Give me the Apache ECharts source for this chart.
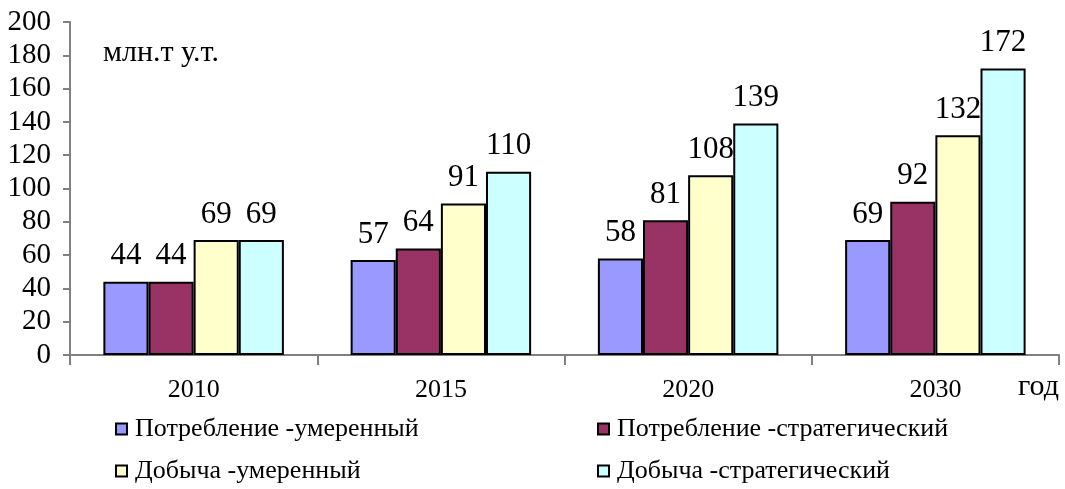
<!DOCTYPE html>
<html lang="ru">
<head>
    <meta charset="UTF-8">
    <title>Потребление и добыча</title>
    <script src="https://cdn.jsdelivr.net/npm/echarts@6/dist/echarts.min.js"></script>
</head>
<body style="margin:0;background:#fff;">
    <div id="echart1" style="width: 1065px;height: 489px;"></div>
<script>
    // годы и ряды
    var years = ['2010', '2015', '2020', '2030'];
    var seriesNames = ['Потребление -умеренный', 'Потребление -стратегический', 'Добыча -умеренный', 'Добыча -стратегический'];
    var consModerate = [44, 57, 58, 69];
    var consStrategic = [44, 64, 81, 92];
    var prodModerate = [69, 91, 108, 132];
    var prodStrategic = [69, 110, 139, 172];
    var colors = ['#9999FF', '#993366', '#FFFFCC', '#CCFFFF'];

    var font = '"Liberation Serif", "Times New Roman", serif';
    var values = [consModerate, consStrategic, prodModerate, prodStrategic];

    var series = [];
    for (var i = 0; i < values.length; i++) {
        series.push({
            name: seriesNames[i],
            type: 'bar',
            barGap: 0,
            barCategoryGap: '27%',
            data: values[i],
            itemStyle: {
                color: colors[i],
                borderColor: '#000',
                borderWidth: 2
            },
            label: {
                show: true,
                position: 'top',
                distance: 10,
                color: '#000',
                fontFamily: font,
                fontSize: 31
            }
        });
    }

    var legendBase = {
        orient: 'vertical',
        icon: 'rect',
        padding: 0,
        itemWidth: 11,
        itemHeight: 11,
        itemGap: 16,
        itemStyle: { borderColor: '#000', borderWidth: 2 },
        textStyle: { color: '#000', fontFamily: font, fontSize: 26, padding: [0, 0, 0, 3] }
    };

    var chart = echarts.init(document.getElementById('echart1'));
    chart.setOption({
        animation: false,
        grid: { left: 70, right: 6, top: 22, bottom: 134 },
        legend: [
            Object.assign({ left: 115, top: 416, data: [seriesNames[0], seriesNames[2]] }, legendBase),
            Object.assign({ left: 597, top: 416, data: [seriesNames[1], seriesNames[3]] }, legendBase)
        ],
        graphic: [
            { type: 'text', left: 103, top: 38, style: { text: 'млн.т у.т.', fontFamily: font, fontSize: 30, fill: '#000' } },
            { type: 'text', left: 1018, top: 372, style: { text: 'год', fontFamily: font, fontSize: 30, fill: '#000' } }
        ],
        xAxis: {
            type: 'category',
            data: years,
            axisLine: { lineStyle: { color: '#808080', width: 2 } },
            axisTick: { show: true, length: 10, lineStyle: { color: '#808080', width: 2 } },
            axisLabel: { color: '#000', fontFamily: font, fontSize: 26, margin: 22 }
        },
        yAxis: {
            type: 'value',
            min: 0,
            max: 200,
            interval: 20,
            splitLine: { show: false },
            axisLine: { show: true, lineStyle: { color: '#808080', width: 2 } },
            axisTick: { show: true, length: 7, lineStyle: { color: '#808080', width: 2 } },
            axisLabel: { color: '#000', fontFamily: font, fontSize: 29, margin: 19 }
        },
        series: series
    });
</script>
</body>
</html>
